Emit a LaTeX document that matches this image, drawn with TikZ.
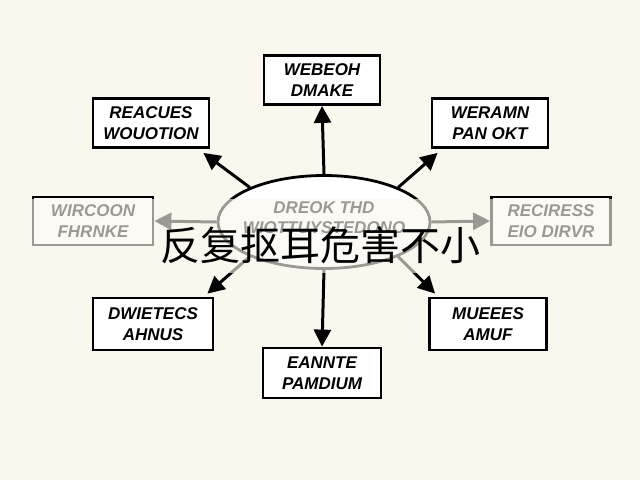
\documentclass[tikz,border=0pt]{standalone}
\usepackage{fontspec}
\setmainfont{Liberation Sans}
\newfontfamily\cjk{Noto Sans CJK SC}
\usetikzlibrary{arrows.meta,shapes.geometric,calc}
\definecolor{paper}{HTML}{FAF8EE}
\tikzset{
  box/.style={draw=black, line width=2.8pt, fill=white, minimum width=116pt, minimum height=49pt, align=center, inner sep=2pt, font=\fontsize{17}{21}\selectfont\bfseries\itshape},
  conn/.style={line width=3pt, -{Triangle[length=17pt,width=17pt]}},
}
\begin{document}
\begin{tikzpicture}[x=1pt,y=-1pt]
\fill[paper] (0,0) rectangle (640,480);
\useasboundingbox (0,0) rectangle (640,480);
\node[ellipse, draw=black, line width=2.8pt, fill=white, inner sep=0pt, minimum width=212pt, minimum height=93pt] (c) at (324,222) {};
\node[align=center, inner sep=0pt, font=\fontsize{17}{20}\selectfont\bfseries\itshape] (ct) at (324,218) {DREOK THD\\WIOTTUYSTEDONO};
\node[box] (top) at (322,80) {WEBEOH\\DMAKE};
\node[box] (tl) at (151,123) {REACUES\\WOUOTION};
\node[box] (tr) at (490,123) {WERAMN\\PAN OKT};
\node[box, minimum width=120pt, minimum height=48pt] (l) at (93,221) {WIRCOON\\FHRNKE};
\node[box, minimum width=119pt, minimum height=48pt] (r) at (551,221) {RECIRESS\\EIO DIRVR};
\node[box, minimum width=120pt, minimum height=52pt] (bl) at (153,324) {DWIETECS\\AHNUS};
\node[box, minimum width=117pt, minimum height=52pt] (br) at (488,324) {MUEEES\\AMUF};
\node[box, minimum width=118pt, minimum height=50pt] (bot) at (322,373) {EANNTE\\PAMDIUM};
\draw[conn] (c.north) -- (top.south);
\draw[conn] (c.155) -- ($(tl.south east)+(-7,4)$);
\draw[conn] (c.25) -- ($(tr.south west)+(7,4)$);
\draw[conn] (c.west) -- (l.east);
\draw[conn] (c.east) -- (r.west);
\draw[conn] (c.205) -- ($(bl.north east)+(-7,-3)$);
\draw[conn] (c.335) -- ($(br.north west)+(7,-3)$);
\draw[conn] (c.south) -- (bot.north);
\fill[paper, opacity=0.62] (0,199) rectangle (640,273);
\node[font=\cjk\fontsize{40}{40}\selectfont, inner sep=0pt] (t) at (320,245) {反复抠耳危害不小};
\end{tikzpicture}
\end{document}
